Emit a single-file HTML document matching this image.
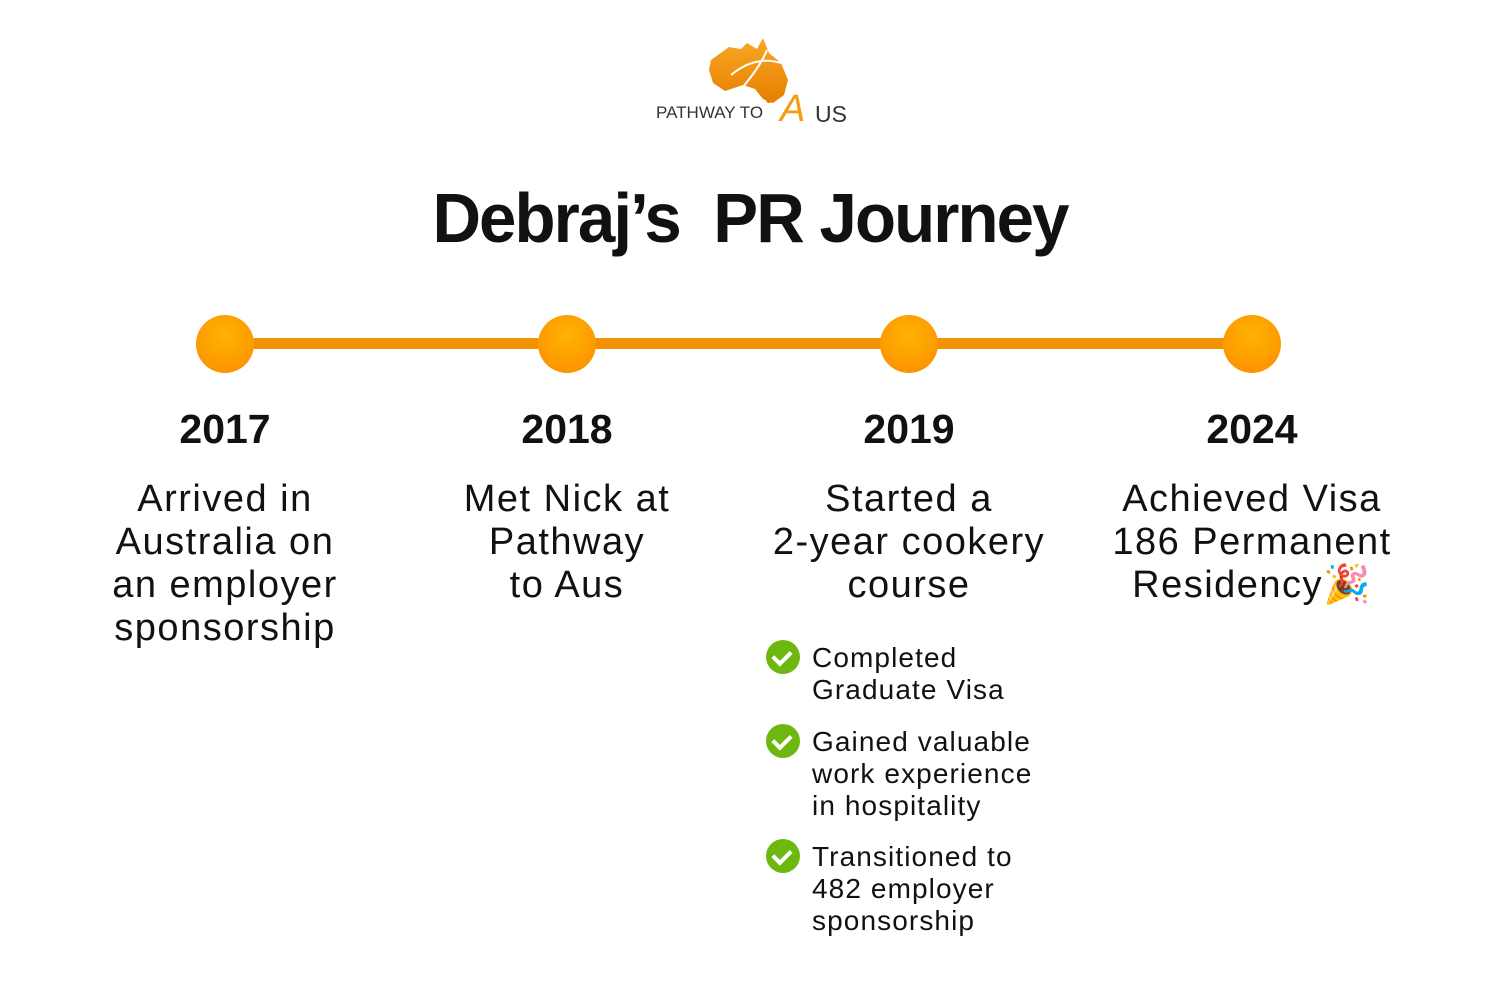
<!DOCTYPE html>
<html><head><meta charset="utf-8"><style>
body{margin:0;width:1500px;height:987px;background:#fff;position:relative;overflow:hidden;font-family:"Liberation Sans",sans-serif;color:#111}
.a{position:absolute}
.yr{position:absolute;top:406px;width:340px;margin-left:-170px;text-align:center;font-weight:bold;font-size:41px}
.d{position:absolute;top:478px;width:360px;margin-left:-180px;text-align:center;font-size:38px;line-height:43px;letter-spacing:1.5px}
.dot{position:absolute;top:315px;width:58px;height:58px;border-radius:50%;background:radial-gradient(circle at 50% 35%,#ffb300,#fb8c00);margin-left:-29px}
.ck{position:absolute;left:766px;width:34px;height:34px;border-radius:50%;background:#6cb80e}
.ck:after{content:"";position:absolute;left:10px;top:7px;width:8px;height:14px;border:solid #fff;border-width:0 4px 4px 0;transform:rotate(45deg)}
.ct{position:absolute;left:812px;font-size:28px;line-height:32px;letter-spacing:1.1px}
</style></head><body>
<svg class="a" style="left:705px;top:35px" width="90" height="75" viewBox="0 0 90 75">
<defs><linearGradient id="g" x1="0" y1="0" x2="0" y2="1"><stop offset="0" stop-color="#f9a825"/><stop offset="1" stop-color="#e67e00"/></linearGradient></defs>
<path d="M6 25 L24 12 L36 14 L42 8 L52 14 L58 3 L64 18 L76 28 L83 45 L79 60 L68 68 L58 64 L50 54 L38 50 L20 56 L8 48 L4 35 Z" fill="url(#g)"/>
<path d="M26 40 Q50 20 76 28 M38 52 Q56 30 62 15" stroke="#fff" stroke-width="2" fill="none"/>
</svg>
<div class="a" style="left:766px;top:97px;width:6px;height:6px;border-radius:50%;background:#e67e00"></div>
<div class="a" style="left:656px;top:103px;font-size:17px;color:#333">PATHWAY TO</div>
<div class="a" style="left:780px;top:88px;font-size:38px;color:#f39c12;font-style:italic">A</div>
<div class="a" style="left:815px;top:101px;font-size:23px;color:#333">US</div>
<div class="a" style="left:0;width:1500px;top:178px;text-align:center;font-size:70px;font-weight:bold;letter-spacing:-2px;transform:scaleX(0.96)">Debraj’s&nbsp; PR Journey</div>
<div class="a" style="left:225px;top:338px;width:1027px;height:11px;background:#f39200"></div>
<div class="dot" style="left:225px"></div><div class="dot" style="left:567px"></div><div class="dot" style="left:909px"></div><div class="dot" style="left:1252px"></div>
<div class="yr" style="left:225px">2017</div><div class="yr" style="left:567px">2018</div><div class="yr" style="left:909px">2019</div><div class="yr" style="left:1252px">2024</div>
<div class="d" style="left:225px">Arrived in<br>Australia on<br>an employer<br>sponsorship</div>
<div class="d" style="left:567px">Met Nick at<br>Pathway<br>to Aus</div>
<div class="d" style="left:909px">Started a<br>2-year cookery<br>course</div>
<div class="d" style="left:1252px">Achieved Visa<br>186 Permanent<br>Residency🎉</div>
<div class="ck" style="top:640px"></div><div class="ct" style="top:642px">Completed<br>Graduate Visa</div>
<div class="ck" style="top:724px"></div><div class="ct" style="top:726px">Gained valuable<br>work experience<br>in hospitality</div>
<div class="ck" style="top:839px"></div><div class="ct" style="top:841px">Transitioned to<br>482 employer<br>sponsorship</div>
</body></html>
